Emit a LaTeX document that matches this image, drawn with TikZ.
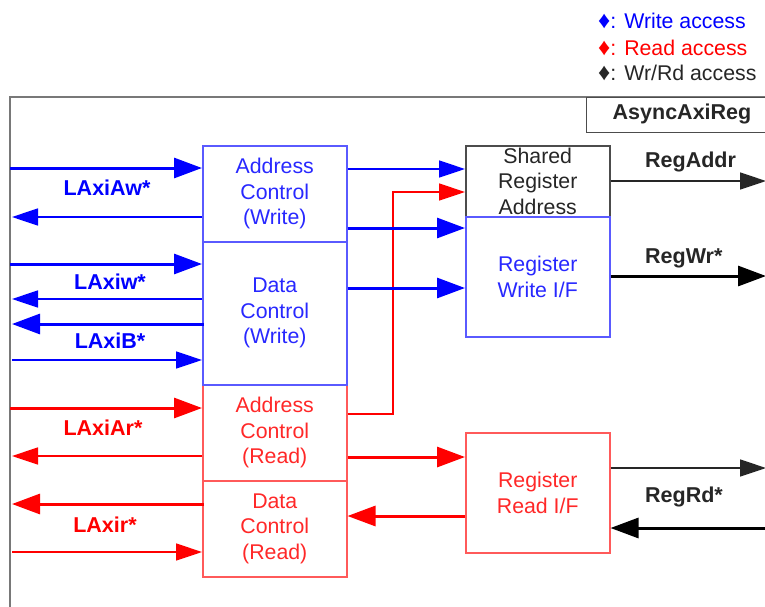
\documentclass[tikz,border=0pt]{standalone}
\usepackage{fontspec}
\setmainfont{Liberation Sans}
\usetikzlibrary{arrows.meta}
\definecolor{wblue}{RGB}{0,0,255}
\definecolor{rred}{RGB}{255,0,0}
\definecolor{bblue}{RGB}{90,90,255}
\definecolor{bred}{RGB}{255,90,90}
\definecolor{framegray}{RGB}{120,120,120}
\definecolor{tblue}{RGB}{40,40,255}
\definecolor{tred}{RGB}{255,40,40}
\newcommand{\dmd}{{\fontsize{24}{24}\selectfont ♦}}
\begin{document}
\begin{tikzpicture}[x=1pt,y=-1pt,
  txt/.style={font=\fontsize{21.3}{25.5}\selectfont},
  lbl/.style={font=\fontsize{21.5}{25}\selectfont\bfseries, inner sep=0pt},
  blk/.style={draw, line width=1.5pt, minimum width=144pt, inner sep=0pt, align=center, anchor=north west, txt},
  thk/.style={line width=3pt, -{Triangle[length=28pt,width=20pt]}},
  thn/.style={line width=1.6pt, -{Triangle[length=26pt,width=17pt]}}
]
\useasboundingbox (0,0) rectangle (765,606);
\fill[white] (0,0) rectangle (765,606);

% frame
\draw[framegray, line width=2pt] (766,97) -- (10,97) -- (10,607);
\node[draw=black!70, line width=1.2pt, anchor=north west, minimum width=185pt, minimum height=35pt, inner sep=0pt] (tbox) at (586,97) {};
\node[lbl, text=black!85] (title) at (682,114) {AsyncAxiReg};

% legend
\node[txt, anchor=west, inner sep=0pt, text=wblue] (lg1) at (598,21) {\dmd: Write access};
\node[txt, anchor=west, inner sep=0pt, text=rred] (lg2) at (598,48) {\dmd: Read access};
\node[txt, anchor=west, inner sep=0pt, text=black!85] (lg3) at (598,73) {\dmd: Wr/Rd access};

% blocks (read first so write borders overlay)
\node[blk, draw=bred, text=tred, minimum height=96pt] (acr) at (202,384) {Address\\Control\\(Read)};
\node[blk, draw=bred, text=tred, minimum height=96pt] (dcr) at (202,480) {Data\\Control\\(Read)};
\node[blk, draw=bblue, text=tblue, minimum height=96pt] (acw) at (202,145) {Address\\Control\\(Write)};
\node[blk, draw=bblue, text=tblue, minimum height=143pt] (dcw) at (202,241) {Data\\Control\\(Write)};

\node[blk, draw=black!70, text=black!85, minimum height=71pt] (sra) at (465,145) {Shared\\Register\\Address};
\node[blk, draw=bblue, text=tblue, minimum height=120pt] (wif) at (465,216) {Register\\Write I/F};
\node[blk, draw=bred, text=tred, minimum height=120pt] (rif) at (465,432) {Register\\Read I/F};

\coordinate (L) at (10,0);
\coordinate (Lt) at (12,0);
\coordinate (R) at (766,0);
\coordinate (bend) at (393,0);

% left side: write
\draw[thk, wblue] (L |- 0,168) -- (acw.west |- 0,168);
\draw[thn, wblue] (acw.west |- 0,217) -- (Lt |- 0,217);
\draw[thk, wblue] (L |- 0,264) -- (dcw.west |- 0,264);
\draw[thn, wblue] (dcw.west |- 0,299) -- (Lt |- 0,299);
\draw[thk, wblue] ([xshift=2pt]dcw.west |- 0,324) -- (Lt |- 0,324);
\draw[thn, wblue] (Lt |- 0,360) -- (dcw.west |- 0,360);
\node[lbl, text=wblue] (l1) at (107,188) {LAxiAw*};
\node[lbl, text=wblue] (l2) at (110,282) {LAxiw*};
\node[lbl, text=wblue] (l3) at (110,341) {LAxiB*};

% left side: read
\draw[thk, rred] (L |- 0,408) -- (acr.west |- 0,408);
\draw[thn, rred] (acr.west |- 0,456) -- (Lt |- 0,456);
\draw[thk, rred] ([xshift=2pt]dcr.west |- 0,504) -- (Lt |- 0,504);
\draw[thn, rred] (Lt |- 0,552) -- (dcr.west |- 0,552);
\node[lbl, text=rred] (l4) at (103,428) {LAxiAr*};
\node[lbl, text=rred] (l5) at (105,525) {LAxir*};

% middle
\draw[thn, wblue] (acw.east |- 0,169) -- (sra.west |- 0,169);
\draw[line width=1.4pt, rred, -{Triangle[length=26pt,width=17pt]}] (acr.east |- 0,414) -- (bend |- 0,414) -- (bend |- 0,192) -- (sra.west |- 0,192);
\draw[thk, wblue] (acw.east |- 0,228) -- (wif.west |- 0,228);
\draw[thk, wblue] (dcw.east |- 0,288) -- (wif.west |- 0,288);
\draw[thk, rred] (acr.east |- 0,457) -- (rif.west |- 0,457);
\draw[thk, rred] (rif.west |- 0,516) -- (dcr.east |- 0,516);

% right side
\draw[line width=1.6pt, black!85, -{Triangle[length=26pt,width=17pt]}] (sra.east |- 0,181) -- (R |- 0,181);
\draw[thk, black] (wif.east |- 0,276) -- (R |- 0,276);
\draw[line width=1.6pt, black!85, -{Triangle[length=26pt,width=17pt]}] (rif.east |- 0,468) -- (R |- 0,468);
\draw[thk, black] (R |- 0,528) -- (rif.east |- 0,528);
\node[lbl, text=black!85, anchor=west] (r1) at (645,162) {RegAddr};
\node[lbl, text=black!85, anchor=west] (r2) at (645,258) {RegWr*};
\node[lbl, text=black!85, anchor=west] (r3) at (645,497) {RegRd*};
\end{tikzpicture}
\end{document}
